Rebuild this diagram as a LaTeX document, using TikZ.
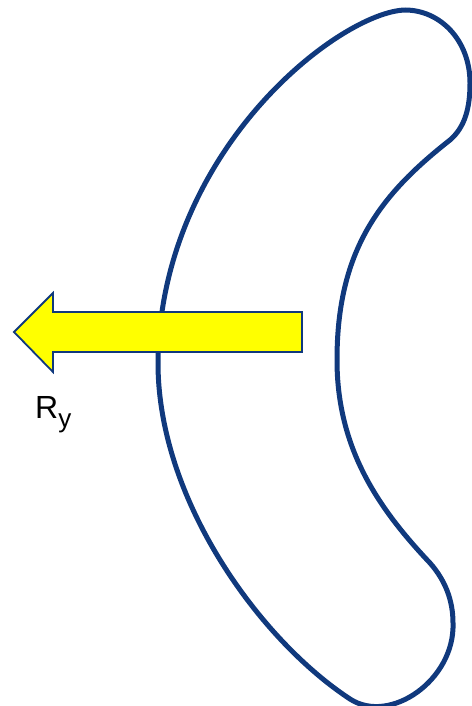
\documentclass[tikz,border=0pt]{standalone}
\usepackage{fontspec}
\setmainfont{Liberation Sans}
\usepackage{xcolor}
\usepackage{tikz}
\usetikzlibrary{positioning}

\definecolor{outlineblue}{RGB}{16,57,125}
\definecolor{forceyellow}{RGB}{255,255,0}

\begin{document}
\begin{tikzpicture}[
    x=1pt, y=-1pt,
    body/.style={draw=outlineblue, line width=5pt, line join=round},
    force/.style={draw=outlineblue, fill=forceyellow, line width=1.8pt, line join=miter},
    label/.style={inner sep=0pt, anchor=base west, font=\fontsize{32}{32}\selectfont}
]
    \useasboundingbox (0,0) rectangle (471,706);

    % curved member
    \draw [body] (405,10) .. controls (340,12) and (160,150) .. (158,363)
        .. controls (158,500) and (260,640) .. (350,699)
        .. controls (390,725) and (455,680) .. (453,623)
        .. controls (453,600) and (445,580) .. (430,563)
        .. controls (380,510) and (337,450) .. (337,360)
        .. controls (337,250) and (380,195) .. (450,140)
        .. controls (465,127) and (470,108) .. (470,83)
        .. controls (470,40) and (440,10) .. cycle;

    % reaction arrow
    \coordinate (tip) at (14,332);
    \draw [force] (tip) -- (53,293) -- (53,312) -- (302,312) -- (302,352)
        -- (53,352) -- (53,372) -- cycle;

    \node (ry) [label] at (35,418) {R\raisebox{-9pt}{\fontsize{26}{26}\selectfont y}};
\end{tikzpicture}
\end{document}
